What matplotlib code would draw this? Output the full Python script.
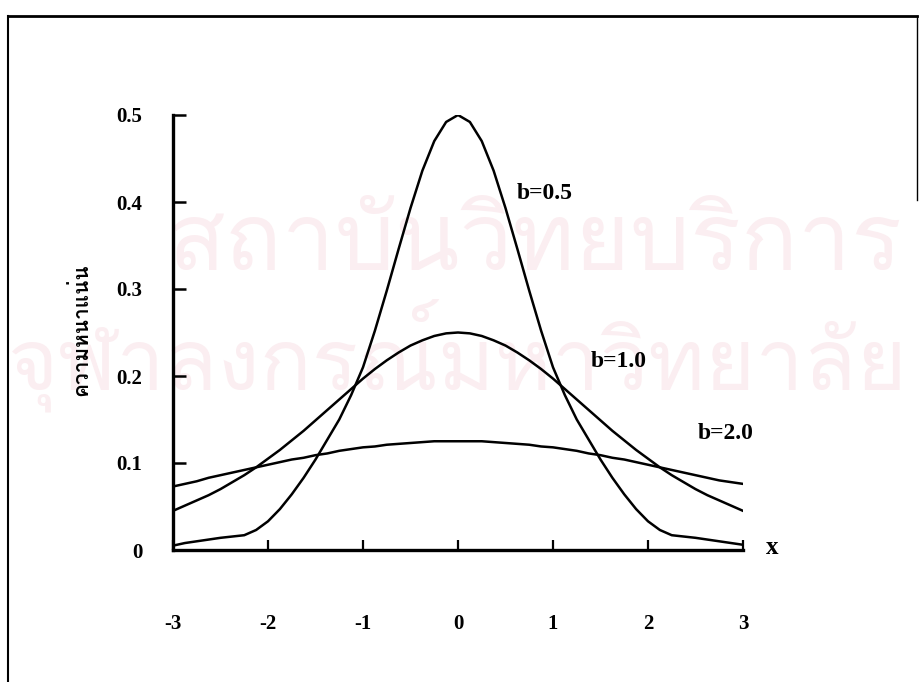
import numpy as np
import matplotlib
matplotlib.use('Agg')
import matplotlib.pyplot as plt
from matplotlib import font_manager
from matplotlib.ft2font import FT2Font
from matplotlib.lines import Line2D

# sample positions on the x axis
x_values = np.linspace(-3, 3, 49)

# density read for each scale parameter b
density_b05 = [0.005, 0.008, 0.010, 0.012, 0.014, 0.0155, 0.017, 0.023, 0.033, 0.047,
               0.064, 0.083, 0.104, 0.127, 0.150, 0.178, 0.210, 0.252, 0.298, 0.346,
               0.393, 0.436, 0.470, 0.492, 0.500, 0.492, 0.470, 0.436, 0.393, 0.346,
               0.298, 0.252, 0.210, 0.178, 0.150, 0.127, 0.104, 0.083, 0.064, 0.047,
               0.033, 0.023, 0.017, 0.0155, 0.014, 0.012, 0.010, 0.008, 0.006]
density_b10 = [0.045, 0.051, 0.057, 0.063, 0.070, 0.078, 0.086, 0.095, 0.105, 0.115,
               0.126, 0.137, 0.149, 0.161, 0.173, 0.185, 0.197, 0.208, 0.218, 0.227,
               0.235, 0.241, 0.246, 0.249, 0.250, 0.249, 0.246, 0.241, 0.235, 0.227,
               0.218, 0.208, 0.197, 0.185, 0.173, 0.161, 0.149, 0.137, 0.126, 0.115,
               0.105, 0.095, 0.086, 0.078, 0.070, 0.063, 0.057, 0.051, 0.045]
density_b20 = [0.073, 0.076, 0.079, 0.083, 0.086, 0.089, 0.092, 0.095, 0.098, 0.101,
               0.104, 0.106, 0.109, 0.111, 0.114, 0.116, 0.118, 0.119, 0.121, 0.122,
               0.123, 0.124, 0.125, 0.125, 0.125, 0.125, 0.125, 0.124, 0.123, 0.122,
               0.121, 0.119, 0.118, 0.116, 0.114, 0.111, 0.109, 0.106, 0.104, 0.101,
               0.098, 0.095, 0.092, 0.089, 0.086, 0.083, 0.080, 0.078, 0.076]

curve_labels = ['b=0.5', 'b=1.0', 'b=2.0']
label_pos = [(0.62, 0.41), (1.40, 0.217), (2.52, 0.134)]

x_ticks = [-3, -2, -1, 0, 1, 2, 3]
y_ticks = [0, 0.1, 0.2, 0.3, 0.4, 0.5]
y_title = 'ความหนาแน่น'
stamp_lines = ['สถาบันวิทยบริการ', 'จุฬาลงกรณ์มหาวิทยาลัย']


def thai_family():
    # pick any installed font that carries Thai glyphs
    for f in font_manager.fontManager.ttflist:
        try:
            if 0x0E01 in FT2Font(f.fname).get_charmap():
                return f.name
        except Exception:
            pass
    return 'DejaVu Sans'


serif = 'Liberation Serif'
thai = [thai_family(), 'DejaVu Sans']

fig = plt.figure(figsize=(9.19, 6.82), dpi=100)

# faint library stamp behind the plot
stamp_ax = fig.add_axes([0, 0, 1, 1], zorder=0)
stamp_ax.axis('off')
stamp_ax.text(535 / 919, 1 - 245 / 682, stamp_lines[0], fontsize=68, color='#fbeef1',
              family=thai, ha='center', va='center')
stamp_ax.text(458 / 919, 1 - 355 / 682, stamp_lines[1], fontsize=62, color='#fbeef1',
              family=thai, ha='center', va='center')

ax = fig.add_axes([173 / 919, 1 - 550 / 682, 570 / 919, 435 / 682], zorder=2)
ax.patch.set_alpha(0)

for ys in (density_b05, density_b10, density_b20):
    ax.plot(x_values, ys, color='black', lw=1.8)

for txt, (tx, ty) in zip(curve_labels, label_pos):
    ax.text(tx, ty, txt, fontsize=17, fontweight='bold', family=serif,
            va='center', ha='left')

ax.set_xlim(-3, 3)
ax.set_ylim(0, 0.5)
ax.set_xticks(x_ticks)
ax.set_xticklabels([str(t) for t in x_ticks])
ax.set_yticks(y_ticks)
ax.set_yticklabels(['0'] + ['%.1f' % t for t in y_ticks[1:]])
for lab in ax.get_xticklabels() + ax.get_yticklabels():
    lab.set_family(serif)
    lab.set_fontweight('bold')
    lab.set_fontsize(15)

ax.spines['top'].set_visible(False)
ax.spines['right'].set_visible(False)
for s in ('left', 'bottom'):
    ax.spines[s].set_linewidth(2.4)
ax.tick_params(axis='x', direction='in', length=7, width=1.6, pad=46)
ax.tick_params(axis='y', direction='in', length=9, width=1.8, pad=22)

ax.text(1.04, 0.005, 'x', transform=ax.transAxes, fontsize=18, fontweight='bold',
        family=serif, va='center', ha='left')
fig.text(80 / 919, 1 - 330 / 682, y_title, rotation=90, fontsize=15,
         fontweight='bold', family=thai, ha='center', va='center', zorder=3)

# frame around the figure
fig.add_artist(Line2D([8 / 919, 8 / 919], [0, 1 - 16 / 682], color='black', lw=1.5))
fig.add_artist(Line2D([8 / 919, 917 / 919], [1 - 16 / 682, 1 - 16 / 682], color='black', lw=2))
fig.add_artist(Line2D([917 / 919, 917 / 919], [1 - 16 / 682, 1 - 200 / 682], color='black', lw=1))

fig.savefig('out.png', dpi=100)
